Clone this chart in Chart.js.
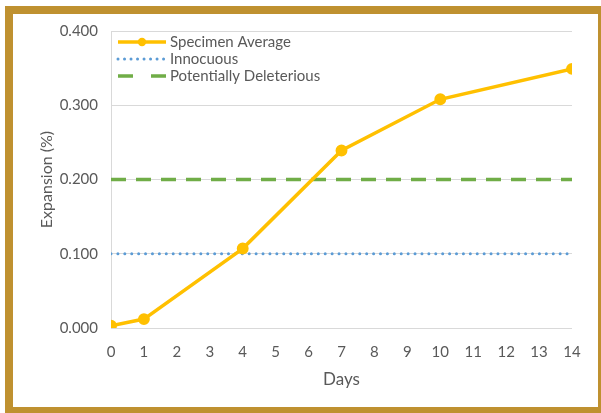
<!DOCTYPE html>
<html>
<head>
<meta charset="utf-8">
<script src="https://cdn.jsdelivr.net/npm/chart.js@4/dist/chart.umd.min.js"></script>
<style>
  html, body { margin: 0; padding: 0; background: #ffffff; overflow: hidden; }
  #wrap { position: absolute; left: 0; top: 0; width: 601px; height: 413px; }
  #frame { position: absolute; left: 5px; top: 6px; width: 585px; height: 393px; border: 8px solid #BF9130; pointer-events: none; }
  canvas { position: absolute; left: 0; top: 0; }
</style>
</head>
<body>
<div id="wrap">
  <canvas id="c" width="601" height="413"></canvas>
  <div id="frame"></div>
</div>
<script>
// ---- data ----
const days = [0, 1, 4, 7, 10, 14];
const specimenAverage = [0.003, 0.012, 0.107, 0.239, 0.308, 0.349];
const innocuousLimit = [0.100, 0.100];
const deleteriousLimit = [0.200, 0.200];
const limitDays = [0, 14];
const yTicks = [0, 0.1, 0.2, 0.3, 0.4];
const xTicks = [0, 1, 2, 3, 4, 5, 6, 7, 8, 9, 10, 11, 12, 13, 14];
const seriesNames = ['Specimen Average', 'Innocuous', 'Potentially Deleterious'];

const FONT = 'Lato, "Open Sans", "DejaVu Sans", sans-serif';
const TEXT = '#595959';
const GOLD = '#FFC000';
const BLUE = '#5B9BD5';
const GREEN = '#70AD47';

const toPts = (xs, ys) => xs.map((x, i) => ({ x: x, y: ys[i] }));

// custom legend drawn inside the plot area, stacked vertically
const insideLegend = {
  id: 'insideLegend',
  afterDatasetsDraw(chart) {
    const ctx = chart.ctx;
    const area = chart.chartArea;
    const x0 = area.left + 7, x1 = area.left + 55;
    const rows = [area.top + 11, area.top + 28, area.top + 45];
    ctx.save();
    ctx.font = '15px ' + FONT;
    ctx.fillStyle = TEXT;
    ctx.textBaseline = 'middle';
    chart.data.datasets.forEach((ds, i) => {
      const y = rows[i];
      ctx.beginPath();
      ctx.strokeStyle = ds.borderColor;
      ctx.lineWidth = ds.borderWidth;
      ctx.lineCap = ds.borderCapStyle || 'butt';
      ctx.setLineDash(ds.legendDash || []);
      ctx.moveTo(x0, y);
      ctx.lineTo(x1, y);
      ctx.stroke();
      ctx.setLineDash([]);
      if (ds.pointRadius > 0) {
        ctx.beginPath();
        ctx.fillStyle = ds.pointBackgroundColor;
        ctx.arc((x0 + x1) / 2, y, ds.pointRadius, 0, Math.PI * 2);
        ctx.fill();
      }
      ctx.fillStyle = TEXT;
      ctx.fillText(ds.label, x1 + 4, y);
    });
    ctx.restore();
  }
};

new Chart(document.getElementById('c'), {
  type: 'line',
  data: {
    datasets: [
      {
        label: seriesNames[0],
        data: toPts(days, specimenAverage),
        borderColor: GOLD,
        backgroundColor: GOLD,
        pointBackgroundColor: GOLD,
        pointBorderColor: GOLD,
        borderWidth: 3.5,
        pointRadius: 4.2,
        pointHoverRadius: 4.2,
        tension: 0,
        order: 0
      },
      {
        label: seriesNames[1],
        data: toPts(limitDays, innocuousLimit),
        borderColor: BLUE,
        backgroundColor: BLUE,
        borderWidth: 3,
        borderCapStyle: 'round',
        borderDash: [0.01, 6.9],
        legendDash: [0.01, 6.5],
        pointRadius: 0,
        order: 1
      },
      {
        label: seriesNames[2],
        data: toPts(limitDays, deleteriousLimit),
        borderColor: GREEN,
        backgroundColor: GREEN,
        borderWidth: 3.5,
        borderDash: [15, 10],
        legendDash: [15, 18],
        pointRadius: 0,
        order: 2
      }
    ]
  },
  options: {
    responsive: false,
    animation: false,
    devicePixelRatio: 1,
    layout: { padding: { left: 37, right: 29, top: 31, bottom: 23 } },
    plugins: {
      legend: { display: false },
      tooltip: { enabled: false }
    },
    scales: {
      x: {
        type: 'linear',
        min: 0,
        max: 14,
        afterBuildTicks(scale) { scale.ticks = xTicks.map(v => ({ value: v })); },
        grid: { display: false, drawTicks: false },
        border: { display: false },
        ticks: { color: TEXT, font: { family: FONT, size: 15 }, padding: 15, maxRotation: 0, autoSkip: false },
        title: { display: true, text: 'Days', color: TEXT, font: { family: FONT, size: 17 }, padding: { top: 6, bottom: 0 } },
        afterFit(scale) { scale.height = 62; }
      },
      y: {
        min: 0,
        max: 0.4,
        afterBuildTicks(scale) { scale.ticks = yTicks.map(v => ({ value: v })); },
        grid: { color: '#D9D9D9', lineWidth: 1, drawTicks: false },
        border: { display: true, color: '#D9D9D9', width: 1 },
        ticks: {
          color: TEXT,
          font: { family: FONT, size: 15 },
          padding: 13,
          callback: v => Number(v).toFixed(3)
        },
        title: { display: true, text: 'Expansion (%)', color: TEXT, font: { family: FONT, size: 16 }, padding: { top: 0, bottom: 4 } },
        afterFit(scale) { scale.width = 74; }
      }
    }
  },
  plugins: [insideLegend]
});
</script>
</body>
</html>
